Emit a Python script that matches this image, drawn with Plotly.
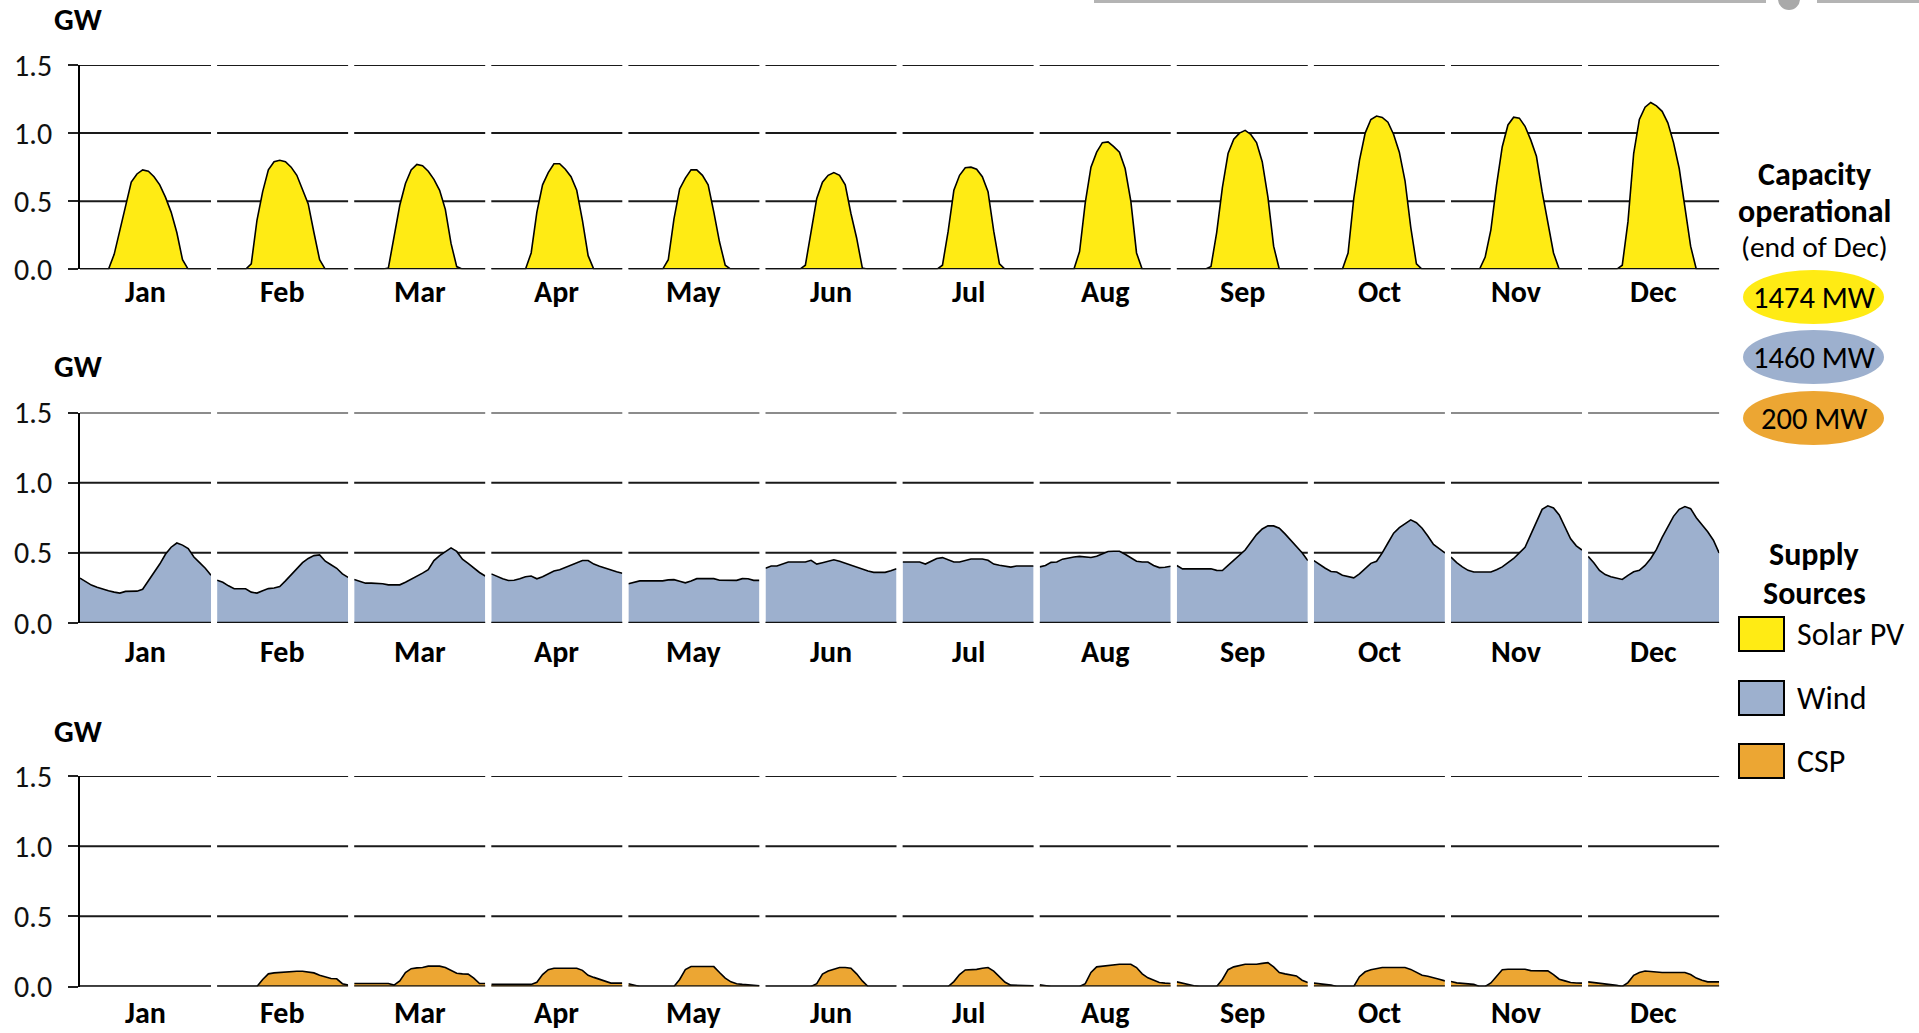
import plotly.graph_objects as go

W, H = 1919, 1033

months = ["Jan", "Feb", "Mar", "Apr", "May", "Jun",
          "Jul", "Aug", "Sep", "Oct", "Nov", "Dec"]
hours = list(range(24))
y_ticks = [0.0, 0.5, 1.0, 1.5]
y_tick_text = ["0.0", "0.5", "1.0", "1.5"]

# Average hourly output (GW) per month, hours 0..23
solar_pv = [
    [0, 0, 0, 0, 0, 0, 0.11, 0.29, 0.48, 0.64, 0.70, 0.73, 0.72, 0.68, 0.62, 0.53, 0.42, 0.27, 0.07, 0, 0, 0, 0, 0],
    [0, 0, 0, 0, 0, 0, 0.04, 0.36, 0.57, 0.73, 0.79, 0.80, 0.79, 0.75, 0.69, 0.58, 0.48, 0.27, 0.07, 0, 0, 0, 0, 0],
    [0, 0, 0, 0, 0, 0, 0.01, 0.24, 0.47, 0.63, 0.73, 0.77, 0.76, 0.72, 0.66, 0.58, 0.44, 0.19, 0.02, 0, 0, 0, 0, 0],
    [0, 0, 0, 0, 0, 0, 0, 0.12, 0.42, 0.62, 0.71, 0.775, 0.775, 0.735, 0.68, 0.58, 0.36, 0.10, 0, 0, 0, 0, 0, 0],
    [0, 0, 0, 0, 0, 0, 0, 0.07, 0.37, 0.59, 0.67, 0.73, 0.73, 0.69, 0.62, 0.42, 0.20, 0.03, 0, 0, 0, 0, 0, 0],
    [0, 0, 0, 0, 0, 0, 0, 0.03, 0.28, 0.52, 0.64, 0.69, 0.71, 0.69, 0.62, 0.41, 0.23, 0.01, 0, 0, 0, 0, 0, 0],
    [0, 0, 0, 0, 0, 0, 0, 0.03, 0.28, 0.58, 0.69, 0.745, 0.75, 0.735, 0.68, 0.57, 0.28, 0.04, 0, 0, 0, 0, 0, 0],
    [0, 0, 0, 0, 0, 0, 0, 0.13, 0.49, 0.75, 0.86, 0.93, 0.935, 0.90, 0.86, 0.74, 0.50, 0.12, 0, 0, 0, 0, 0, 0],
    [0, 0, 0, 0, 0, 0, 0.02, 0.27, 0.60, 0.85, 0.955, 1.0, 1.02, 0.99, 0.93, 0.79, 0.53, 0.17, 0, 0, 0, 0, 0, 0],
    [0, 0, 0, 0, 0, 0, 0.12, 0.52, 0.80, 1.0, 1.1, 1.125, 1.115, 1.08, 0.99, 0.86, 0.65, 0.31, 0.04, 0, 0, 0, 0, 0],
    [0, 0, 0, 0, 0, 0, 0.09, 0.29, 0.62, 0.90, 1.06, 1.117, 1.11, 1.05, 0.95, 0.83, 0.57, 0.33, 0.12, 0, 0, 0, 0, 0],
    [0, 0, 0, 0, 0, 0, 0.03, 0.35, 0.85, 1.10, 1.19, 1.225, 1.20, 1.16, 1.075, 0.93, 0.74, 0.46, 0.17, 0, 0, 0, 0, 0],
]

wind = [
    [0.32, 0.295, 0.27, 0.255, 0.24, 0.23, 0.22, 0.213, 0.225, 0.227, 0.227, 0.24, 0.30, 0.36, 0.42, 0.49, 0.54, 0.57, 0.555, 0.53, 0.47, 0.43, 0.39, 0.34],
    [0.305, 0.29, 0.265, 0.244, 0.244, 0.244, 0.22, 0.213, 0.23, 0.245, 0.25, 0.26, 0.30, 0.345, 0.39, 0.43, 0.46, 0.48, 0.485, 0.44, 0.415, 0.39, 0.35, 0.325],
    [0.31, 0.295, 0.284, 0.284, 0.284, 0.28, 0.272, 0.272, 0.272, 0.29, 0.31, 0.33, 0.355, 0.38, 0.445, 0.48, 0.51, 0.535, 0.51, 0.455, 0.425, 0.39, 0.36, 0.335],
    [0.35, 0.33, 0.315, 0.303, 0.305, 0.315, 0.33, 0.335, 0.315, 0.33, 0.35, 0.37, 0.38, 0.395, 0.41, 0.43, 0.445, 0.445, 0.42, 0.405, 0.39, 0.38, 0.365, 0.355],
    [0.28, 0.29, 0.30, 0.30, 0.30, 0.30, 0.30, 0.307, 0.309, 0.298, 0.286, 0.30, 0.316, 0.316, 0.316, 0.316, 0.305, 0.304, 0.304, 0.304, 0.316, 0.315, 0.304, 0.304],
    [0.39, 0.406, 0.406, 0.42, 0.435, 0.435, 0.435, 0.435, 0.447, 0.42, 0.43, 0.443, 0.451, 0.44, 0.425, 0.41, 0.395, 0.38, 0.37, 0.361, 0.361, 0.361, 0.372, 0.387],
    [0.435, 0.435, 0.435, 0.435, 0.42, 0.44, 0.46, 0.466, 0.45, 0.435, 0.435, 0.445, 0.456, 0.456, 0.456, 0.447, 0.42, 0.412, 0.405, 0.398, 0.406, 0.406, 0.406, 0.406],
    [0.40, 0.41, 0.432, 0.435, 0.455, 0.465, 0.47, 0.475, 0.47, 0.467, 0.475, 0.49, 0.51, 0.511, 0.511, 0.49, 0.465, 0.44, 0.435, 0.435, 0.41, 0.395, 0.397, 0.404],
    [0.41, 0.386, 0.386, 0.386, 0.386, 0.386, 0.386, 0.375, 0.374, 0.41, 0.447, 0.485, 0.52, 0.575, 0.63, 0.67, 0.692, 0.692, 0.675, 0.635, 0.59, 0.55, 0.50, 0.445],
    [0.445, 0.415, 0.39, 0.367, 0.363, 0.34, 0.33, 0.322, 0.35, 0.39, 0.425, 0.44, 0.50, 0.57, 0.64, 0.68, 0.71, 0.735, 0.715, 0.675, 0.62, 0.56, 0.53, 0.50],
    [0.47, 0.43, 0.40, 0.375, 0.363, 0.363, 0.363, 0.363, 0.38, 0.40, 0.43, 0.46, 0.50, 0.54, 0.63, 0.72, 0.81, 0.835, 0.82, 0.77, 0.69, 0.60, 0.55, 0.52],
    [0.475, 0.43, 0.375, 0.345, 0.33, 0.32, 0.31, 0.34, 0.365, 0.375, 0.41, 0.46, 0.525, 0.61, 0.68, 0.76, 0.81, 0.83, 0.815, 0.75, 0.70, 0.65, 0.59, 0.50],
]

csp = [
    [0] * 24,
    [0, 0, 0, 0, 0, 0, 0, 0, 0.05, 0.09, 0.097, 0.10, 0.107, 0.109, 0.109, 0.109, 0.102, 0.097, 0.08, 0.066, 0.057, 0.055, 0.02, 0.01],
    [0.021, 0.021, 0.021, 0.021, 0.021, 0.021, 0.021, 0.01, 0.04, 0.10, 0.127, 0.133, 0.135, 0.145, 0.147, 0.145, 0.135, 0.115, 0.095, 0.09, 0.088, 0.06, 0.021, 0.021],
    [0.015, 0.015, 0.015, 0.015, 0.015, 0.015, 0.015, 0.015, 0.03, 0.085, 0.12, 0.13, 0.13, 0.13, 0.13, 0.13, 0.115, 0.08, 0.065, 0.05, 0.035, 0.024, 0.024, 0.024],
    [0.02, 0.01, 0, 0, 0, 0, 0, 0, 0, 0.05, 0.12, 0.142, 0.142, 0.142, 0.142, 0.142, 0.10, 0.06, 0.033, 0.02, 0.015, 0.01, 0.007, 0.005],
    [0, 0, 0, 0, 0, 0, 0, 0, 0, 0.02, 0.088, 0.11, 0.125, 0.135, 0.135, 0.13, 0.09, 0.04, 0, 0, 0, 0, 0, 0],
    [0, 0, 0, 0, 0, 0, 0, 0, 0, 0.035, 0.085, 0.118, 0.118, 0.122, 0.13, 0.135, 0.11, 0.07, 0.03, 0.01, 0.008, 0.006, 0.005, 0.005],
    [0.012, 0.005, 0, 0, 0, 0, 0, 0, 0.02, 0.10, 0.14, 0.145, 0.147, 0.155, 0.159, 0.159, 0.159, 0.135, 0.09, 0.062, 0.045, 0.028, 0.024, 0.021],
    [0.033, 0.022, 0.012, 0.005, 0, 0, 0, 0, 0.05, 0.12, 0.14, 0.148, 0.159, 0.159, 0.159, 0.165, 0.17, 0.14, 0.10, 0.09, 0.085, 0.075, 0.045, 0.028],
    [0.024, 0.02, 0.015, 0.01, 0, 0, 0, 0, 0.07, 0.105, 0.12, 0.128, 0.135, 0.135, 0.135, 0.135, 0.135, 0.122, 0.10, 0.08, 0.073, 0.065, 0.052, 0.04],
    [0.036, 0.026, 0.022, 0.021, 0.015, 0, 0, 0.025, 0.075, 0.12, 0.123, 0.123, 0.123, 0.123, 0.113, 0.111, 0.111, 0.111, 0.085, 0.052, 0.04, 0.028, 0.025, 0.024],
    [0.033, 0.028, 0.024, 0.022, 0.015, 0.008, 0, 0.028, 0.08, 0.10, 0.11, 0.107, 0.10, 0.10, 0.10, 0.10, 0.10, 0.10, 0.085, 0.06, 0.045, 0.033, 0.033, 0.033],
]

source_names = ["Solar PV", "Wind", "CSP"]
source_colors = ["#FFEB14", "#9DB0CE", "#ECA633"]
capacity_labels = ["1474 MW", "1460 MW", "200 MW"]
panels = [solar_pv, wind, csp]

FONT = "Carlito, Lato, sans-serif"

# panel geometry in pixels (top, bottom) and month column layout
panel_rows = [(65, 269.3), (412.5, 623), (776, 986.5)]
gw_label_y = [19, 366, 731]
month_label_y = [291, 651, None]   # bottom row sits on the lower page edge
col_left, col_step, col_width = 80, 137.1, 131


def px(x):
    return x / W


def py(y):
    return 1 - y / H


fig = go.Figure()
layout = dict(
    width=W, height=H,
    margin=dict(l=0, r=0, t=0, b=0, pad=0, autoexpand=False),
    paper_bgcolor="white", plot_bgcolor="white",
    showlegend=False,
    font=dict(family=FONT, color="black"),
)
shapes = []
annotations = []

for p, data in enumerate(panels):
    top, bottom = panel_rows[p]
    for m in range(12):
        k = p * 12 + m + 1
        sfx = "" if k == 1 else str(k)
        xa, ya = f"x{sfx}", f"y{sfx}"
        x0 = col_left + col_step * m
        layout[f"xaxis{sfx}"] = dict(
            domain=[px(x0), px(x0 + col_width)], anchor=ya,
            range=[0, 23], visible=False, fixedrange=True, automargin=False,
        )
        yax = dict(
            domain=[py(bottom), py(top)], anchor=xa, automargin=False,
            range=[0, 1.5], showgrid=False, zeroline=False, fixedrange=True,
        )
        if m == 0:
            yax.update(
                showline=True, linecolor="black", linewidth=1.8,
                ticks="outside", ticklen=10, tickwidth=1.8, tickcolor="#222",
                tickvals=y_ticks, ticktext=y_tick_text,
                tickfont=dict(size=30, family=FONT, color="#111"),
                ticklabelstandoff=10,
            )
        else:
            yax.update(visible=False)
        layout[f"yaxis{sfx}"] = yax

        # broken horizontal grid, one piece per month
        for v in y_ticks[1:]:
            shapes.append(dict(
                type="line", xref=f"{xa} domain", yref=ya,
                x0=0, x1=1, y0=v, y1=v, layer="below",
                line=dict(color="#1a1a1a", width=2),
            ))
        shapes.append(dict(
            type="line", xref=f"{xa} domain", yref=ya,
            x0=0, x1=1, y0=0, y1=0, layer="above",
            line=dict(color="#111", width=2.5),
        ))

        fig.add_trace(go.Scatter(
            x=hours, y=data[m], mode="lines",
            fill="tozeroy", fillcolor=source_colors[p],
            line=dict(color="black", width=1.6),
            xaxis=xa, yaxis=ya, hoverinfo="skip",
        ))

        if month_label_y[p] is None:
            label_pos = dict(y=0, yanchor="bottom")
        else:
            label_pos = dict(y=py(month_label_y[p]), yanchor="middle")
        annotations.append(dict(
            text=f"<b>{months[m]}</b>", xref=f"{xa} domain", x=0.5,
            yref="paper", showarrow=False, xanchor="center",
            font=dict(size=30, family=FONT), **label_pos,
        ))

    annotations.append(dict(
        text="<b>GW</b>", xref="paper", x=px(78), yref="paper", y=py(gw_label_y[p]),
        showarrow=False, xanchor="center", yanchor="middle",
        font=dict(size=31, family=FONT),
    ))

# right-hand key: capacities and supply sources
key_cx = 1814
for txt, y, bold, size in [
    ("Capacity", 174, True, 32),
    ("operational", 211, True, 32),
    ("(end of Dec)", 247, False, 29.5),
    ("Supply", 554, True, 32),
    ("Sources", 593, True, 32),
]:
    annotations.append(dict(
        text=f"<b>{txt}</b>" if bold else txt,
        xref="paper", x=px(key_cx), yref="paper", y=py(y),
        showarrow=False, xanchor="center", yanchor="middle",
        font=dict(size=size, family=FONT),
    ))

ellipse_cy = [297, 357, 418]
for i, cy in enumerate(ellipse_cy):
    shapes.append(dict(
        type="circle", xref="paper", yref="paper",
        x0=px(1743), x1=px(1884), y0=py(cy + 27), y1=py(cy - 27),
        fillcolor=source_colors[i], line=dict(width=0), layer="above",
    ))
    annotations.append(dict(
        text=capacity_labels[i], xref="paper", x=px(key_cx), yref="paper", y=py(cy),
        showarrow=False, xanchor="center", yanchor="middle",
        font=dict(size=30.5, family=FONT),
    ))

box_cy = [634, 698, 761]
for i, cy in enumerate(box_cy):
    shapes.append(dict(
        type="rect", xref="paper", yref="paper",
        x0=px(1739), x1=px(1784), y0=py(cy + 17), y1=py(cy - 17),
        fillcolor=source_colors[i], line=dict(color="black", width=2), layer="above",
    ))
    annotations.append(dict(
        text=source_names[i], xref="paper", x=px(1795), yref="paper", y=py(cy),
        showarrow=False, xanchor="left", yanchor="middle",
        font=dict(size=32, family=FONT),
    ))

# slider track along the top edge
shapes += [
    dict(type="line", xref="paper", yref="paper", x0=px(1094), x1=px(1766),
         y0=py(1.5), y1=py(1.5), line=dict(color="#B4B4B4", width=3), layer="above"),
    dict(type="line", xref="paper", yref="paper", x0=px(1817), x1=px(1919),
         y0=py(1.5), y1=py(1.5), line=dict(color="#B4B4B4", width=3), layer="above"),
    dict(type="circle", xref="paper", yref="paper", x0=px(1778), x1=px(1800),
         y0=py(10), y1=py(-12), fillcolor="#A9A9A9", line=dict(width=0), layer="above"),
]

layout["shapes"] = shapes
layout["annotations"] = annotations
fig.update_layout(**layout)
fig.write_html("out.html")
